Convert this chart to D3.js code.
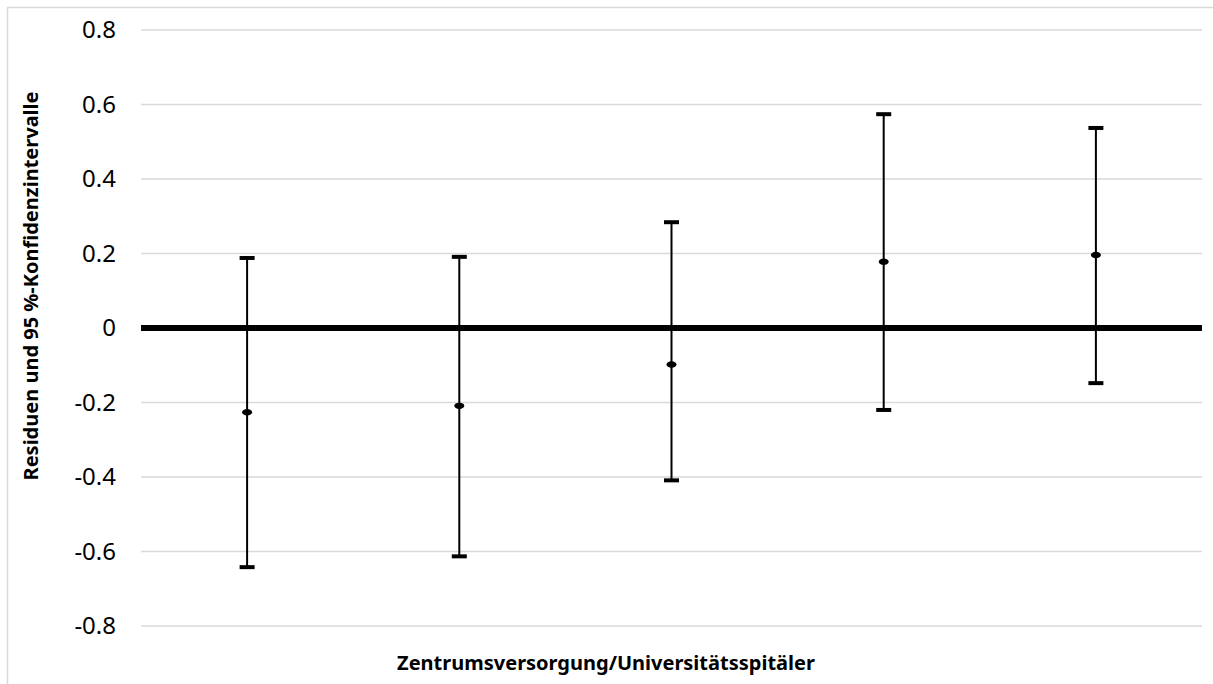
<!DOCTYPE html>
<html>
<head>
<meta charset="utf-8">
<script src="https://cdn.jsdelivr.net/npm/d3@7"></script>
<style>
  html, body { margin: 0; padding: 0; background: #fff; }
  svg { display: block; font-family: "Noto Sans", "Open Sans", sans-serif; }
</style>
</head>
<body>
<svg id="chart" width="1213" height="684"></svg>
<script>
// residuals with 95 % confidence intervals
const categories = ['A', 'B', 'C', 'D', 'E'];
const residuals  = [-0.226, -0.209, -0.098, 0.178, 0.196];
const ciLower    = [-0.642, -0.613, -0.409, -0.220, -0.148];
const ciUpper    = [ 0.188,  0.191,  0.284,  0.574,  0.537];
const yTicks     = [-0.8, -0.6, -0.4, -0.2, 0, 0.2, 0.4, 0.6, 0.8];

const xTitle = 'Zentrumsversorgung/Universitätsspitäler';
const yTitle = 'Residuen und 95 %-Konfidenzintervalle';

const MARGIN = { left: 141, right: 11, top: 30, bottom: 58 };
const W = 1213, H = 684;
const width  = W - MARGIN.left - MARGIN.right;
const height = H - MARGIN.top - MARGIN.bottom;

const data = categories.map((c, i) => ({
    cat: c, val: residuals[i], lo: ciLower[i], hi: ciUpper[i]
}));

const svg = d3.select('#chart');

// outer chart border
svg.append('rect')
    .attr('x', 7.5).attr('y', 7.5)
    .attr('width', W + 20).attr('height', H + 20)
    .attr('fill', 'none').attr('stroke', '#d9d9d9').attr('stroke-width', 1.5);

const g = svg.append('g').attr('transform', `translate(${MARGIN.left},${MARGIN.top})`);

const x = d3.scaleBand().domain(categories).range([0, width]);
const y = d3.scaleLinear().domain([-0.8, 0.8]).range([height, 0]);

// grid
g.append('g').attr('class', 'grid')
    .selectAll('line').data(yTicks.filter(d => d !== 0)).join('line')
    .attr('x1', 0).attr('x2', width)
    .attr('y1', d => y(d)).attr('y2', d => y(d))
    .attr('stroke', '#d9d9d9').attr('stroke-width', 1.5);

// y tick labels (plain hyphen for minus, like the original)
const yAxis = g.append('g')
    .call(d3.axisLeft(y).tickValues(yTicks).tickSize(0).tickPadding(25)
        .tickFormat(d => d === 0 ? '0' : d.toFixed(1)));
yAxis.select('.domain').remove();
yAxis.selectAll('text')
    .attr('font-family', '"Noto Sans", "Open Sans", sans-serif')
    .attr('font-size', 24).attr('fill', '#000');

// zero line
g.append('line')
    .attr('x1', 0).attr('x2', width)
    .attr('y1', y(0)).attr('y2', y(0))
    .attr('stroke', '#000').attr('stroke-width', 6);

// error bars
const cx = d => x(d.cat) + x.bandwidth() / 2;
const bars = g.append('g').selectAll('g').data(data).join('g');

bars.append('line')
    .attr('x1', cx).attr('x2', cx)
    .attr('y1', d => y(d.hi)).attr('y2', d => y(d.lo))
    .attr('stroke', '#000').attr('stroke-width', 2);

bars.append('line')
    .attr('x1', d => cx(d) - 7.5).attr('x2', d => cx(d) + 7.5)
    .attr('y1', d => y(d.hi)).attr('y2', d => y(d.hi))
    .attr('stroke', '#000').attr('stroke-width', 4);

bars.append('line')
    .attr('x1', d => cx(d) - 7.5).attr('x2', d => cx(d) + 7.5)
    .attr('y1', d => y(d.lo)).attr('y2', d => y(d.lo))
    .attr('stroke', '#000').attr('stroke-width', 4);

bars.append('ellipse')
    .attr('cx', cx).attr('cy', d => y(d.val))
    .attr('rx', 5).attr('ry', 3.2)
    .attr('fill', '#000');

// axis titles
svg.append('text')
    .attr('x', 606).attr('y', 670)
    .attr('text-anchor', 'middle')
    .attr('font-size', 20).attr('font-weight', 'bold')
    .text(xTitle);

svg.append('text')
    .attr('transform', 'translate(38,286) rotate(-90)')
    .attr('text-anchor', 'middle')
    .attr('font-size', 20).attr('font-weight', 'bold')
    .text(yTitle);
</script>
</body>
</html>
